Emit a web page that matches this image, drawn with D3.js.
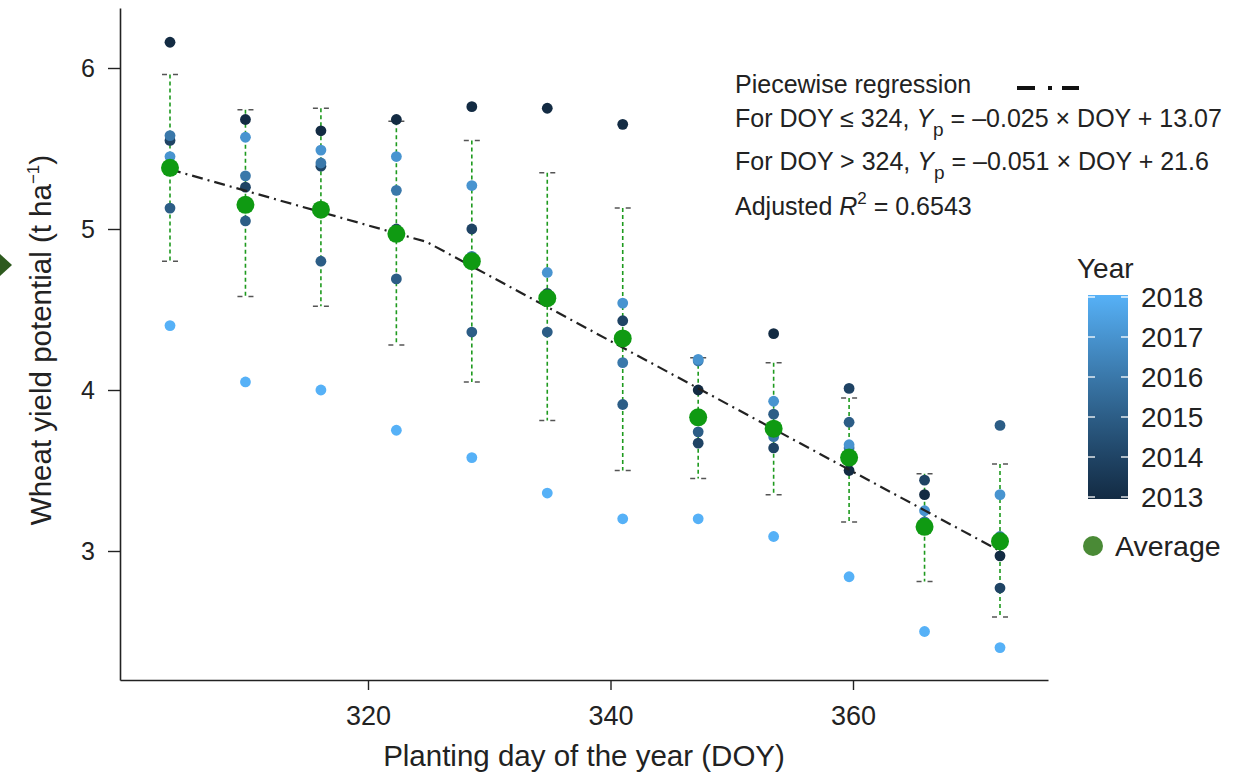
<!DOCTYPE html>
<html><head><meta charset="utf-8">
<script src="https://cdn.jsdelivr.net/npm/d3@7"></script>
<style>
html,body{margin:0;padding:0;background:#fff;}
text{font-family:"Liberation Sans",Arial,Helvetica,sans-serif;fill:#222;}
</style></head>
<body><svg id="c" width="1234" height="777"></svg>
<script>
// ---- data ----
const doy = [307, 312, 317, 322, 327, 332, 337, 342, 347, 352, 357, 362];
const years = [2013, 2014, 2015, 2016, 2017, 2018];
const y2013 = [6.16, 5.68, 5.61, 5.68, 5.76, 5.75, 5.65, 4.00, 4.35, 3.50, 3.35, 2.97];
const y2014 = [5.55, 5.26, 5.39, 5.00, 5.00, 4.60, 4.43, 3.67, 3.64, 4.01, 3.44, 2.77];
const y2015 = [5.13, 5.05, 4.80, 4.69, 4.36, 4.36, 3.91, 3.74, 3.85, 3.80, 3.18, 3.78];
const y2016 = [5.58, 5.33, 5.41, 5.24, 4.83, 4.58, 4.17, 4.18, 3.71, 3.64, 3.18, 3.09];
const y2017 = [5.45, 5.57, 5.49, 5.45, 5.27, 4.73, 4.54, 4.19, 3.93, 3.66, 3.25, 3.35];
const y2018 = [4.40, 4.05, 4.00, 3.75, 3.58, 3.36, 3.20, 3.20, 3.09, 2.84, 2.50, 2.40];
const average = [5.38, 5.15, 5.12, 4.97, 4.80, 4.57, 4.32, 3.83, 3.76, 3.58, 3.15, 3.06];
const errHigh = [5.96, 5.74, 5.75, 5.67, 5.55, 5.35, 5.13, 4.20, 4.17, 3.95, 3.48, 3.54];
const errLow  = [4.80, 4.58, 4.52, 4.28, 4.05, 3.81, 3.50, 3.45, 3.35, 3.18, 2.81, 2.59];
const regDoy = [307, 324, 362];
const regYield = [5.37, 4.92, 3.00];
const xTicks = [320, 340, 360];
const yTicks = [3, 4, 5, 6];
const legendYears = [2013, 2014, 2015, 2016, 2017, 2018];

const yearSeries = [y2013, y2014, y2015, y2016, y2017, y2018];

const svg = d3.select("#c");

// scales
const x = d3.scaleLinear().domain([307, 362]).range([170, 1000]);
const xa = d3.scaleLinear().domain([320, 360]).range([368, 853]);
xa.domain([xa.invert(120), xa.invert(1048)]).range([120, 1048]);
const y = d3.scaleLinear().domain([3, 6]).range([551, 68]);
y.domain([y.invert(680), y.invert(8)]).range([680, 8]);
const col = d3.scaleLinear().domain([2013, 2018]).range(["#132B43", "#56B1F7"]).interpolate(d3.interpolateLab);

// axes
const gx = svg.append("g").attr("transform", "translate(0,680)")
  .call(d3.axisBottom(xa).tickValues(xTicks).tickFormat(d3.format("d")).tickSizeOuter(0).tickSizeInner(10).tickPadding(16));
const gy = svg.append("g").attr("transform", "translate(120,0)")
  .call(d3.axisLeft(y).tickValues(yTicks).tickFormat(d3.format("d")).tickSizeOuter(0).tickSizeInner(12).tickPadding(13));
[gx, gy].forEach(g => {
  g.select(".domain").attr("stroke", "#222").attr("stroke-width", 1.6);
  g.selectAll(".tick line").attr("stroke", "#222").attr("stroke-width", 1.4);
  g.selectAll(".tick text").attr("fill", "#222")
    .attr("font-family", "Liberation Sans, Arial, sans-serif");
});
gx.selectAll(".tick text").attr("font-size", 27);
gy.selectAll(".tick text").attr("font-size", 25);

// axis titles
svg.append("text").attr("x", 584).attr("y", 766).attr("text-anchor", "middle")
  .attr("font-size", 29.5).text("Planting day of the year (DOY)");
const yt = svg.append("text").attr("transform", "translate(51,340) rotate(-90)")
  .attr("text-anchor", "middle").attr("font-size", 29.5);
yt.append("tspan").text("Wheat yield potential (t ha");
yt.append("tspan").attr("font-size", 17).attr("dy", -12).text("−1");
yt.append("tspan").attr("dy", 12).text(")");

// left edge marker
svg.append("path").attr("d", d3.line()([[0, 254], [12, 265], [0, 276]])).attr("fill", "#2d5a1e");

// error bars
const eb = svg.append("g");
doy.forEach((d, i) => {
  eb.append("line").attr("x1", x(d)).attr("x2", x(d)).attr("y1", y(errHigh[i])).attr("y2", y(errLow[i]))
    .attr("stroke", "#1e9a1e").attr("stroke-width", 1.6).attr("stroke-dasharray", "4,3");
  [errHigh[i], errLow[i]].forEach(v => {
    eb.append("line").attr("x1", x(d) - 8).attr("x2", x(d) + 8).attr("y1", y(v)).attr("y2", y(v))
      .attr("stroke", "#555").attr("stroke-width", 1.5).attr("stroke-dasharray", "5,6");
  });
});

// year points
yearSeries.forEach((ser, k) => {
  svg.append("g").selectAll("circle").data(ser).join("circle")
    .attr("cx", (v, i) => x(doy[i])).attr("cy", v => y(v)).attr("r", 5.4)
    .attr("fill", col(years[k]));
});

// regression line
svg.append("path").datum(regDoy.map((d, i) => [d, regYield[i]]))
  .attr("d", d3.line().x(p => x(p[0])).y(p => y(p[1])))
  .attr("fill", "none").attr("stroke", "#222").attr("stroke-width", 2.2)
  .attr("stroke-dasharray", "11,5,2,5");

// averages
svg.append("g").selectAll("circle").data(average).join("circle")
  .attr("cx", (v, i) => x(doy[i])).attr("cy", v => y(v)).attr("r", 9)
  .attr("fill", "#0f9a12");

// annotation
const ann = svg.append("g").attr("font-size", 25);
ann.append("text").attr("x", 735).attr("y", 93).text("Piecewise regression");
svg.append("line").attr("x1", 1017).attr("x2", 1079).attr("y1", 88).attr("y2", 88)
  .attr("stroke", "#111").attr("stroke-width", 4).attr("stroke-dasharray", "18,13,4,10,18");
const l2 = ann.append("text").attr("x", 735).attr("y", 127);
l2.append("tspan").text("For DOY ≤ 324, ");
l2.append("tspan").attr("font-style", "italic").text("Y");
l2.append("tspan").attr("font-size", 19).attr("dy", 9).text("p");
l2.append("tspan").attr("dy", -9).text(" = –0.025 × DOY + 13.07");
const l3 = ann.append("text").attr("x", 735).attr("y", 170);
l3.append("tspan").text("For DOY > 324, ");
l3.append("tspan").attr("font-style", "italic").text("Y");
l3.append("tspan").attr("font-size", 19).attr("dy", 9).text("p");
l3.append("tspan").attr("dy", -9).text(" = –0.051 × DOY + 21.6");
const l4 = ann.append("text").attr("x", 735).attr("y", 215);
l4.append("tspan").text("Adjusted ");
l4.append("tspan").attr("font-style", "italic").text("R");
l4.append("tspan").attr("font-size", 17).attr("dy", -11).text("2");
l4.append("tspan").attr("dy", 11).text(" = 0.6543");

// colour legend
const cy = d3.scaleLinear().domain([2013, 2018]).range([497, 297]);
const defs = svg.append("defs");
const grad = defs.append("linearGradient").attr("id", "g").attr("x1", 0).attr("y1", 1).attr("x2", 0).attr("y2", 0);
legendYears.forEach((yr, i) => grad.append("stop").attr("offset", i / (legendYears.length - 1)).attr("stop-color", col(yr)));
svg.append("text").attr("x", 1077).attr("y", 278).attr("font-size", 28).text("Year");
svg.append("rect").attr("x", 1088).attr("y", cy(2018) - 2).attr("width", 40).attr("height", cy(2013) - cy(2018) + 4)
  .attr("fill", "url(#g)");
legendYears.forEach(yr => {
  svg.append("line").attr("x1", 1088).attr("x2", 1095).attr("y1", cy(yr)).attr("y2", cy(yr)).attr("stroke", "#fff").attr("stroke-width", 1.3);
  svg.append("line").attr("x1", 1121).attr("x2", 1128).attr("y1", cy(yr)).attr("y2", cy(yr)).attr("stroke", "#fff").attr("stroke-width", 1.3);
  svg.append("text").attr("x", 1141).attr("y", cy(yr) + 10).attr("font-size", 28).text(yr);
});
svg.append("circle").attr("cx", 1093).attr("cy", 546).attr("r", 10).attr("fill", "#4a8a36");
svg.append("text").attr("x", 1115).attr("y", 556).attr("font-size", 28.5).text("Average");
</script></body></html>
